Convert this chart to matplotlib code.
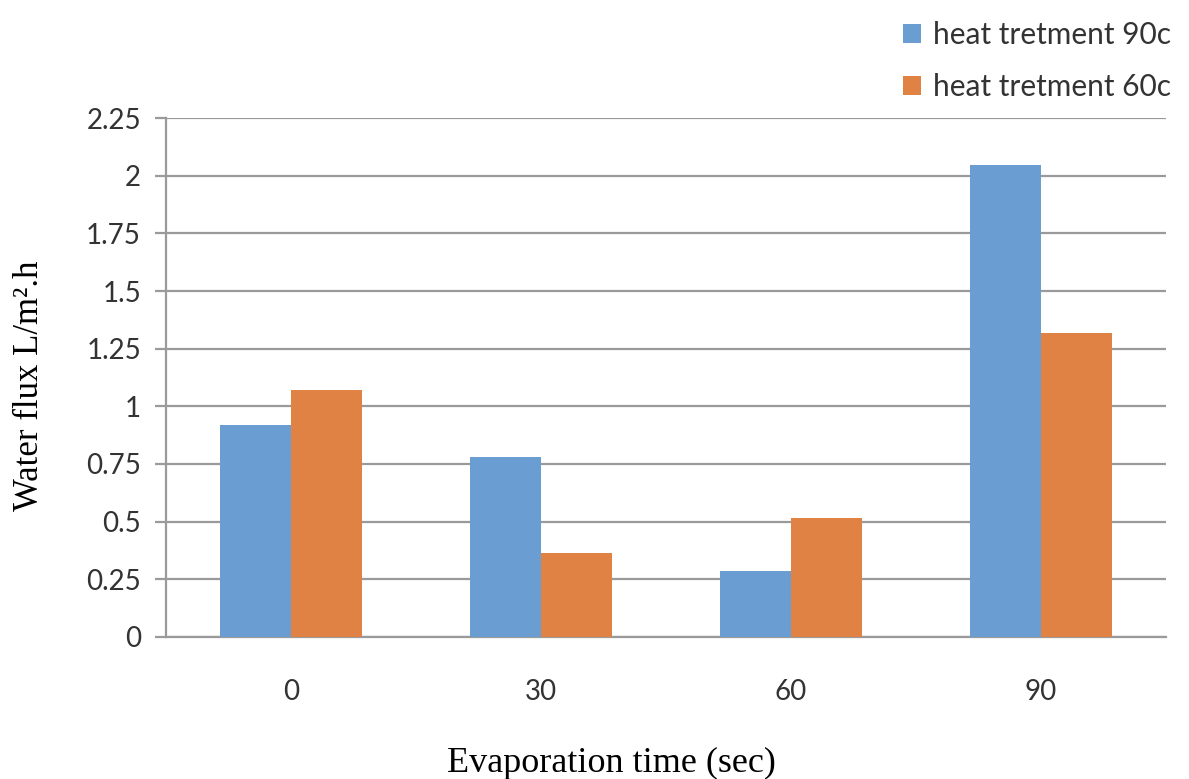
import matplotlib
matplotlib.use("Agg")
import matplotlib.pyplot as plt
import numpy as np

categories = ["0", "30", "60", "90"]
flux_90c = [0.92, 0.78, 0.285, 2.045]
flux_60c = [1.07, 0.365, 0.515, 1.32]
series_labels = ["heat tretment 90c", "heat tretment 60c"]
yticks = [0, 0.25, 0.5, 0.75, 1, 1.25, 1.5, 1.75, 2, 2.25]
ytick_labels = ["0", "0.25", "0.5", "0.75", "1", "1.25", "1.5", "1.75", "2", "2.25"]

blue = "#6A9DD1"
orange = "#E08243"
grid_col = "#9A9A9A"
text_col = "#333333"

fig = plt.figure(figsize=(11.89, 7.79), dpi=100)
ax = fig.add_axes([0.1396, 0.1823, 0.8411, 0.6662])

x = np.arange(len(categories))
width = 0.2857
ax.bar(x - width / 2, flux_90c, width, color=blue, label=series_labels[0], zorder=3)
ax.bar(x + width / 2, flux_60c, width, color=orange, label=series_labels[1], zorder=3)

ax.set_xlim(-0.5, len(categories) - 0.5)
ax.set_ylim(0, 2.25)
ax.set_yticks(yticks)
ax.set_yticklabels(ytick_labels, fontfamily="Lato", fontsize=20, color=text_col)
ax.set_xticks(x)
ax.set_xticklabels(categories, fontfamily="Lato", fontsize=20, color=text_col)

ax.yaxis.grid(True, color=grid_col, linewidth=1.6, zorder=0)
ax.tick_params(axis="y", length=8, width=1.6, color=grid_col, pad=10)
ax.tick_params(axis="x", length=0, pad=30)

for side in ["top", "right"]:
    ax.spines[side].set_visible(False)
for side in ["left", "bottom"]:
    ax.spines[side].set_color(grid_col)
    ax.spines[side].set_linewidth(1.6)

fig.text(611 / 1189, 1 - 763 / 779, "Evaporation time (sec)", fontfamily="Liberation Serif",
         fontsize=26, ha="center", va="center")
fig.text(30 / 1189, 1 - 386 / 779, "Water flux L/m².h", fontfamily="Liberation Serif",
         fontsize=25, ha="center", va="center", rotation=90)

leg = fig.legend(loc="upper left", bbox_to_anchor=(0.737, 1.007), frameon=False,
                 prop={"family": "Lato", "size": 21.5}, handlelength=0.6, handleheight=0.6,
                 handletextpad=0.4, labelspacing=0.8)
for t in leg.get_texts():
    t.set_color(text_col)

fig.savefig("out.png", dpi=100)
